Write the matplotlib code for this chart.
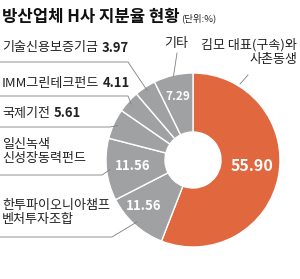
import numpy as np
import matplotlib
matplotlib.use("Agg")
import matplotlib.pyplot as plt

plt.rcParams['font.family'] = ['Noto Sans CJK KR', 'DejaVu Sans']

# data, clockwise from 12 o'clock
names = ['김모 대표(구속)와\n사촌동생', '한투파이오니아챔프\n벤처투자조합', '일신녹색\n신성장동력펀드',
         '국제기전', 'IMM그린테크펀드', '기술신용보증기금', '기타']
shares = [55.90, 11.56, 11.56, 5.61, 4.11, 3.97, 7.29]
colors = ['#E1673F'] + ['#A0A1A3'] * 6

W, H = 300, 279
fig = plt.figure(figsize=(W / 100, H / 100), dpi=100)
ax = fig.add_axes([0, 0, 1, 1])

cx, cy, R, r_in = 193, H - 160, 87, 28
txt = '#222222'
fs = 9.4


def py(y):
    return H - y


wedges, _ = ax.pie(shares, colors=colors, startangle=90, counterclock=False,
                   center=(cx, cy), radius=R,
                   wedgeprops=dict(width=R - r_in, edgecolor='white', linewidth=1.0))
ax.set_xlim(0, W)
ax.set_ylim(0, H)
ax.set_aspect('equal')
ax.axis('off')

# title
t = ax.text(2, py(17), '방산업체 H사 지분율 현황', fontsize=12, fontweight='bold',
            va='center', ha='left', color='#111111')
ax.annotate('(단위:%)', xy=(1, 0.15), xycoords=t, xytext=(1, 0), textcoords='offset points',
            fontsize=6.8, va='bottom', ha='left', color=txt)

cum = np.cumsum([0] + shares)
mid = (cum[:-1] + cum[1:]) / 2 / 100 * 360  # degrees clockwise from top


def edge_pt(i, rr=R):
    a = np.deg2rad(mid[i])
    return cx + rr * np.sin(a), cy + rr * np.cos(a)


# values inside the ring
inner = {0: (252, 166, 11.5), 1: (144, 206, 9.5), 2: (133, 166, 9.5), 6: (178, 97, 8.5)}
for i, (x, y, s) in inner.items():
    ax.text(x, py(y), f'{shares[i]:.2f}', color='white', fontsize=s, fontweight='bold',
            ha='center', va='center')

lc = '#7f7f7f'
lw = 0.6

# left labels: (text x, text y of first line, underline y, elbow x)
left = {5: (2, 48, 62, 128), 4: (2, 83, 96, 128), 3: (2, 113, 127, 110),
        2: (2, 142, 175, 102), 1: (2, 203, 237, 112)}
for i, (x, y, uy, ex) in left.items():
    lines = names[i].split('\n')
    if len(lines) == 1:
        tt = ax.text(x, py(y), lines[0], fontsize=fs, ha='left', va='center', color=txt)
        ax.annotate(f'{shares[i]:.2f}', xy=(1, 0.5), xycoords=tt, xytext=(2.5, 0),
                    textcoords='offset points', fontsize=fs, fontweight='bold',
                    ha='left', va='center', color=txt)
    else:
        ax.text(x, py(y + 9.5), names[i], fontsize=fs, ha='left', va='center', color=txt,
                linespacing=1.15)
    px, pyy = edge_pt(i, R - 4)
    ax.plot([0, ex, px], [py(uy), py(uy), pyy], color=lc, lw=lw, solid_capstyle='butt')

# 기타
ax.text(176, py(43), names[6], fontsize=fs, ha='center', va='center', color=txt)
px, pyy = edge_pt(6, R - 1)
ax.plot([177, px], [py(53), pyy], color=lc, lw=lw)

# major holder
ax.text(297, py(52), names[0], fontsize=fs, ha='right', va='center', color=txt,
        multialignment='right', linespacing=1.15)
ax.plot([240, 248], [py(84), py(75)], color=lc, lw=lw)

fig.savefig('out.png', dpi=100)
